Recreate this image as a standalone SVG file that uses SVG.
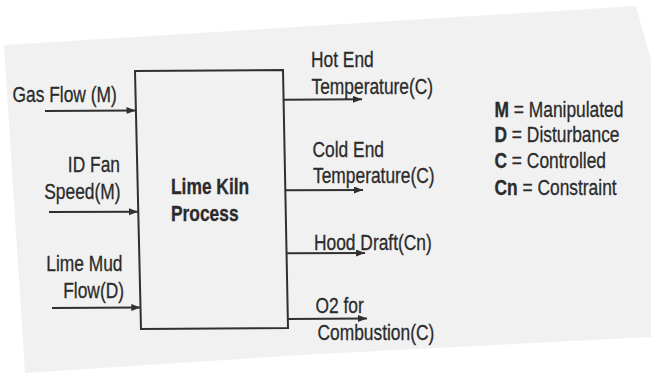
<svg xmlns="http://www.w3.org/2000/svg" width="651" height="373" viewBox="0 0 651 373">
<defs>
<style>
.t{font-family:"Liberation Sans",Arial,sans-serif;font-size:22px;fill:#2b2b2b;stroke:#2b2b2b;stroke-width:0.3}
.b{font-weight:bold}
.e{text-anchor:end}
.ln{stroke:#303030;stroke-width:2;fill:none}
</style>
<marker id="ah" markerUnits="userSpaceOnUse" markerWidth="10" markerHeight="8" refX="9" refY="3.5" orient="auto">
<path d="M0,0 L9,3.5 L0,7 z" fill="#303030"/>
</marker>
</defs>
<rect width="651" height="373" fill="#ffffff"/>
<polygon points="4,45 636,6 651,60 651,337 300,355 25,373" fill="#f1f1f1"/>
<g id="process">
<polygon class="ln" points="135,71 283,70 288,328 141,329"/>
<text class="t b" transform="translate(171,194) scale(0.79,1)">Lime Kiln</text>
<text class="t b" transform="translate(171,220.5) scale(0.79,1)">Process</text>
</g>
<g id="connectors">
<line class="ln" x1="45" y1="111" x2="135.5" y2="110.5" marker-end="url(#ah)"/>
<line class="ln" x1="49" y1="212" x2="138" y2="211.7" marker-end="url(#ah)"/>
<line class="ln" x1="52" y1="308" x2="140.3" y2="307.5" marker-end="url(#ah)"/>
<line class="ln" x1="283.6" y1="99.7" x2="362" y2="99.3" marker-end="url(#ah)"/>
<line class="ln" x1="285.3" y1="190.3" x2="363" y2="190" marker-end="url(#ah)"/>
<line class="ln" x1="286.5" y1="253.3" x2="365" y2="253" marker-end="url(#ah)"/>
<line class="ln" x1="287.8" y1="319" x2="367" y2="318.5" marker-end="url(#ah)"/>
</g>
<g id="in-gas">
<text class="t" transform="translate(12.5,101.5) scale(0.79,1)">Gas Flow (M)</text>
</g>
<g id="in-idfan">
<text class="t e" transform="translate(120,172) scale(0.79,1)">ID Fan</text>
<text class="t e" transform="translate(120.5,198.5) scale(0.79,1)">Speed(M)</text>
</g>
<g id="in-limemud">
<text class="t e" transform="translate(122.5,271) scale(0.79,1)">Lime Mud</text>
<text class="t e" transform="translate(124,297.5) scale(0.79,1)">Flow(D)</text>
</g>
<g id="out-hotend">
<text class="t" transform="translate(311,67) scale(0.79,1)">Hot End</text>
<text class="t" transform="translate(311.5,93.5) scale(0.79,1)">Temperature(C)</text>
</g>
<g id="out-coldend">
<text class="t" transform="translate(312.5,157) scale(0.79,1)">Cold End</text>
<text class="t" transform="translate(313,183) scale(0.79,1)">Temperature(C)</text>
</g>
<g id="out-hood">
<text class="t" transform="translate(314,249.5) scale(0.79,1)">Hood Draft(Cn)</text>
</g>
<g id="out-o2">
<text class="t" transform="translate(315.5,313) scale(0.79,1)">O2 for</text>
<text class="t" transform="translate(317.5,339.5) scale(0.79,1)">Combustion(C)</text>
</g>
<g id="legend">
<text class="t" transform="translate(494.5,116.5) scale(0.79,1)"><tspan class="b">M</tspan> = Manipulated</text>
<text class="t" transform="translate(494.5,142) scale(0.79,1)"><tspan class="b">D</tspan> = Disturbance</text>
<text class="t" transform="translate(494.5,168) scale(0.79,1)"><tspan class="b">C</tspan> = Controlled</text>
<text class="t" transform="translate(494.5,195) scale(0.79,1)"><tspan class="b">Cn</tspan> = Constraint</text>
</g>
</svg>
